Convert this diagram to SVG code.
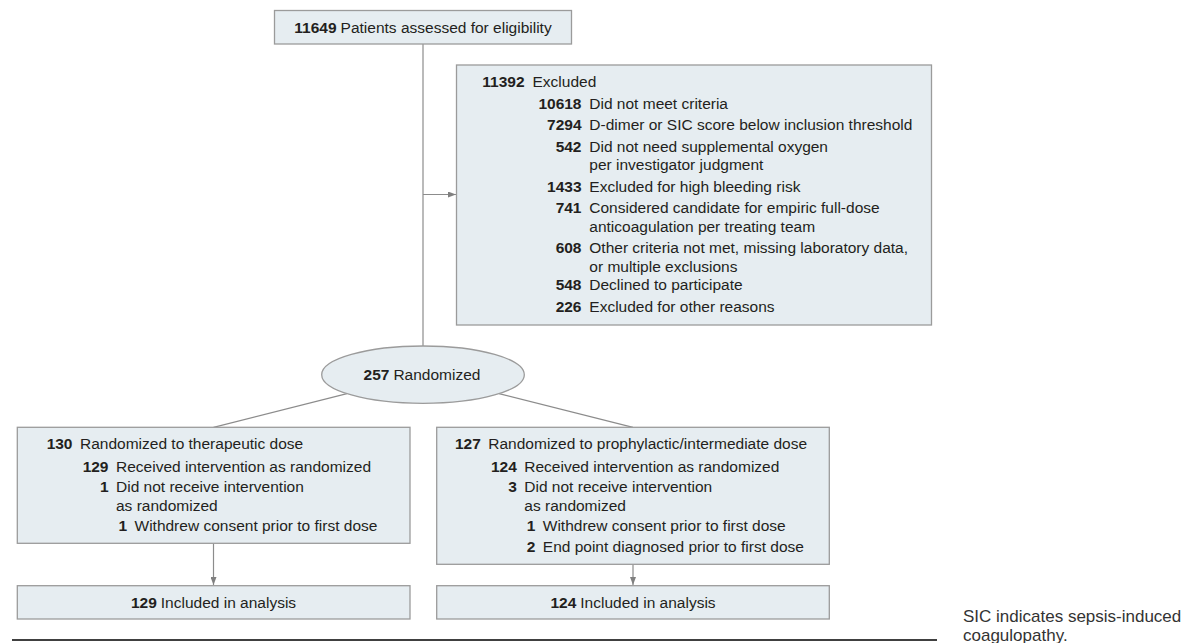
<svg xmlns="http://www.w3.org/2000/svg" width="1185" height="643" viewBox="0 0 1185 643">
<style>
.box{fill:#e6edf1;stroke:#9b9b9b;stroke-width:1.3}
text{font-family:"Liberation Sans",Arial,sans-serif;font-size:15.5px;fill:#231f20}
.b{font-weight:bold}
.n{font-weight:bold;text-anchor:end}
.m{text-anchor:middle}
.c{fill:none;stroke:#8c8c8c;stroke-width:1.2}
.fn{font-size:17px;fill:#333}
</style>
<defs>
<marker id="ah" viewBox="0 0 8 6" refX="8" refY="3" markerWidth="8" markerHeight="6" markerUnits="userSpaceOnUse" orient="auto"><path d="M0,0 L8,3 L0,6 z" fill="#808080"/></marker>
</defs>
<rect width="1185" height="643" fill="#fff"/>
<g id="connectors">
<path class="c" d="M423,44 V346"/>
<path class="c" d="M423,194.5 H456" marker-end="url(#ah)"/>
<path class="c" d="M347,393.7 L213.5,427.3"/>
<path class="c" d="M499,393.6 L633,427.3"/>
<path class="c" d="M213.5,543.3 V585" marker-end="url(#ah)"/>
<path class="c" d="M633,564.3 V585" marker-end="url(#ah)"/>
</g>
<g id="assessed">
<rect class="box" x="274.5" y="10.5" width="297" height="33.5"/>
<text class="m" x="423" y="33"><tspan class="b">11649</tspan><tspan dx="4">Patients assessed for eligibility</tspan></text>
</g>
<g id="excluded">
<rect class="box" x="456.5" y="65" width="475" height="260"/>
<text class="n" x="524.5" y="87">11392</text><text x="532.5" y="87">Excluded</text>
<text class="n" x="581.5" y="108.5">10618</text><text x="589.3" y="108.5">Did not meet criteria</text>
<text class="n" x="581.5" y="130">7294</text><text x="589.3" y="130">D-dimer or SIC score below inclusion threshold</text>
<text class="n" x="581.5" y="151.5">542</text><text x="589.3" y="151.5">Did not need supplemental oxygen</text>
<text x="589.3" y="170">per investigator judgment</text>
<text class="n" x="581.5" y="191.5">1433</text><text x="589.3" y="191.5">Excluded for high bleeding risk</text>
<text class="n" x="581.5" y="213">741</text><text x="589.3" y="213">Considered candidate for empiric full-dose</text>
<text x="589.3" y="231.5">anticoagulation per treating team</text>
<text class="n" x="581.5" y="253">608</text><text x="589.3" y="253">Other criteria not met, missing laboratory data,</text>
<text x="589.3" y="271.5">or multiple exclusions</text>
<text class="n" x="581.5" y="290">548</text><text x="589.3" y="290">Declined to participate</text>
<text class="n" x="581.5" y="311.5">226</text><text x="589.3" y="311.5">Excluded for other reasons</text>
</g>
<g id="randomized">
<ellipse class="box" cx="423" cy="374.7" rx="101.3" ry="28.7"/>
<text class="m" x="422" y="380"><tspan class="b">257</tspan><tspan dx="4">Randomized</tspan></text>
</g>
<g id="therapeutic">
<rect class="box" x="17.3" y="427.3" width="392.7" height="116"/>
<text class="n" x="72.5" y="449.3">130</text><text x="80" y="449.3">Randomized to therapeutic dose</text>
<text class="n" x="108.5" y="471.7">129</text><text x="116" y="471.7">Received intervention as randomized</text>
<text class="n" x="108.5" y="491.7">1</text><text x="116" y="491.7">Did not receive intervention</text>
<text x="116" y="510.7">as randomized</text>
<text class="n" x="127" y="530.7">1</text><text x="134.5" y="530.7">Withdrew consent prior to first dose</text>
</g>
<g id="prophylactic">
<rect class="box" x="436.7" y="427.3" width="392.6" height="137"/>
<text class="n" x="480.8" y="449.3">127</text><text x="488.3" y="449.3">Randomized to prophylactic/intermediate dose</text>
<text class="n" x="516.8" y="471.7">124</text><text x="524.3" y="471.7">Received intervention as randomized</text>
<text class="n" x="516.8" y="491.7">3</text><text x="524.3" y="491.7">Did not receive intervention</text>
<text x="524.3" y="510.7">as randomized</text>
<text class="n" x="535.3" y="530.7">1</text><text x="542.8" y="530.7">Withdrew consent prior to first dose</text>
<text class="n" x="535.3" y="551.7">2</text><text x="542.8" y="551.7">End point diagnosed prior to first dose</text>
</g>
<g id="analysis-therapeutic">
<rect class="box" x="17.3" y="585.7" width="392.7" height="33.3"/>
<text class="m" x="213.5" y="607.5"><tspan class="b">129</tspan><tspan dx="4">Included in analysis</tspan></text>
</g>
<g id="analysis-prophylactic">
<rect class="box" x="436.7" y="585.7" width="392.6" height="33.3"/>
<text class="m" x="633" y="607.5"><tspan class="b">124</tspan><tspan dx="4">Included in analysis</tspan></text>
</g>
<line x1="12" y1="640" x2="937" y2="640" stroke="#000" stroke-width="1.6"/>
<text class="fn" x="963" y="621.5">SIC indicates sepsis-induced</text>
<text class="fn" x="963" y="641">coagulopathy.</text>
</svg>
